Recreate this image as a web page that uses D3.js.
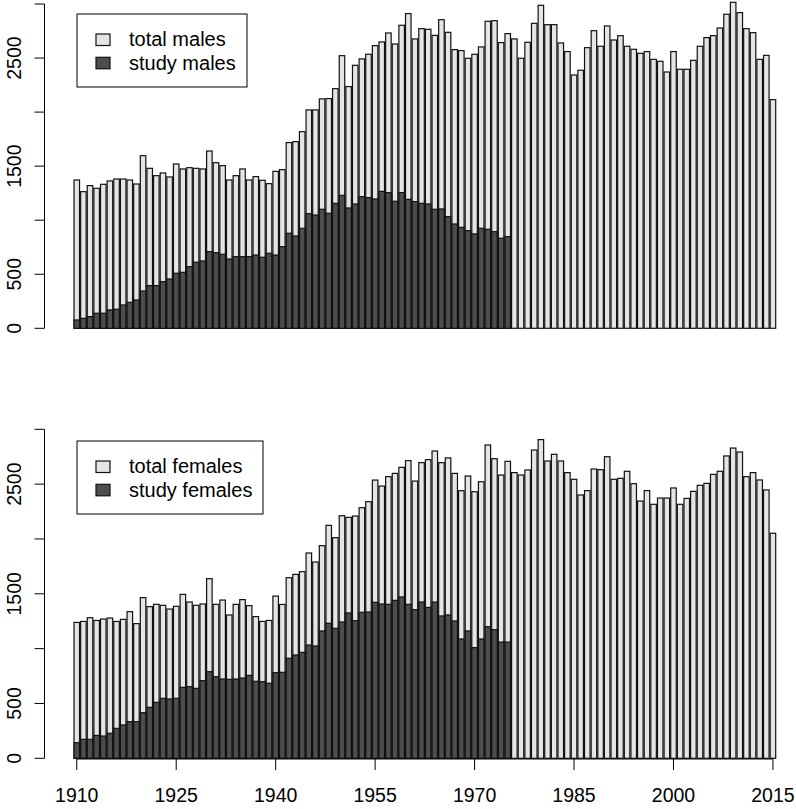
<!DOCTYPE html>
<html>
<head>
<meta charset="utf-8">
<script src="https://cdn.jsdelivr.net/npm/d3@7"></script>
<style>
body{margin:0;background:#fff;}
svg{display:block;font-family:"Liberation Sans",Arial,Helvetica,sans-serif;}
</style>
</head>
<body>
<svg id="chart" width="796" height="809"></svg>
<script>
const years = d3.range(1910, 2016);
const studyYears = d3.range(1910, 1976);

const totalMales = [
1372,1264,1320,1295,1332,1363,1381,1381,1372,1335,
1597,1480,1412,1437,1400,1520,1474,1486,1480,1474,
1640,1532,1505,1372,1412,1474,1372,1403,1369,1338,
1452,1468,1718,1727,1819,2020,2020,2122,2125,2217,
2522,2236,2433,2492,2535,2615,2649,2732,2630,2803,
2911,2677,2772,2766,2710,2855,2738,2578,2569,2498,
2535,2603,2840,2846,2643,2726,2677,2498,2646,2821,
2988,2809,2809,2640,2560,2343,2387,2596,2753,2609,
2797,2667,2707,2609,2581,2544,2560,2488,2470,2371,
2560,2396,2396,2479,2609,2689,2707,2778,2905,3016,
2920,2772,2735,2488,2525,2115];

const studyMales = [
77,92,108,139,139,170,176,216,240,262,
345,395,395,432,456,509,518,570,611,623,
709,700,685,641,663,663,663,678,657,694,
678,755,879,854,925,1060,1048,1101,1064,1156,
1230,1113,1150,1218,1209,1196,1267,1255,1175,1255,
1193,1172,1156,1150,1101,1104,1033,965,934,903,
873,925,916,894,833,848];

const totalFemales = [
1239,1248,1282,1257,1270,1279,1248,1267,1337,1228,
1465,1383,1404,1395,1361,1386,1495,1425,1395,1407,
1638,1404,1443,1307,1404,1447,1392,1292,1248,1257,
1479,1403,1647,1677,1702,1872,1790,1939,2124,2012,
2212,2197,2209,2285,2340,2537,2482,2568,2598,2653,
2714,2528,2696,2723,2802,2696,2739,2598,2440,2574,
2431,2522,2857,2732,2583,2708,2605,2583,2629,2811,
2906,2711,2772,2711,2605,2544,2401,2441,2638,2632,
2750,2544,2553,2617,2504,2346,2441,2316,2373,2373,
2465,2316,2370,2434,2489,2507,2589,2617,2757,2829,
2793,2568,2605,2538,2447,2052];

const studyFemales = [
142,173,173,209,203,228,273,304,334,334,
416,465,510,547,541,547,647,653,638,708,
790,744,723,720,723,732,756,702,699,684,
781,784,912,942,966,1033,1024,1161,1231,1185,
1243,1325,1255,1331,1334,1422,1407,1404,1440,1471,
1404,1355,1425,1376,1425,1298,1307,1252,1088,1161,
1009,1088,1200,1173,1060,1060];

const yTicks = [0,500,1000,1500,2000,2500,3000];
const yTickLabels = ["0","500","","1500","","2500",""];
const xTickYears = [1910,1925,1940,1955,1970,1985,2000,2015];

const panels = [
  {total: totalMales, study: studyMales, labels: ["total males","study males"], y0: 328.3, y1: 4, legend: {x: 77, y: 14, w: 170, h: 73}, xaxis: false},
  {total: totalFemales, study: studyFemales, labels: ["total females","study females"], y0: 758.3, y1: 429.3, legend: {x: 77, y: 441, w: 186, h: 73}, xaxis: true}
];

const lightFill = "#e5e5e5", darkFill = "#4d4d4d";
const svg = d3.select("#chart");

const x = d3.scaleBand().domain(years).range([73.45, 776.25]).paddingInner(1/6).paddingOuter(1/12);

panels.forEach(p => {
  const y = d3.scaleLinear().domain([0, 3000]).range([p.y0, p.y1]);
  const g = svg.append("g");

  g.selectAll("rect.total").data(years.map((yr, i) => ({yr, v: p.total[i]})))
    .enter().append("rect")
    .attr("x", d => x(d.yr)).attr("width", x.bandwidth())
    .attr("y", d => y(d.v)).attr("height", d => y(0) - y(d.v))
    .attr("fill", lightFill).attr("stroke", "#111").attr("stroke-width", 1.2);

  g.selectAll("rect.study").data(studyYears.map((yr, i) => ({yr, v: p.study[i]})))
    .enter().append("rect")
    .attr("x", d => x(d.yr)).attr("width", x.bandwidth())
    .attr("y", d => y(d.v)).attr("height", d => y(0) - y(d.v))
    .attr("fill", darkFill).attr("stroke", "#111").attr("stroke-width", 1.2);

  // y axis
  const ax = g.append("g").attr("transform", "translate(44.5,0)");
  ax.append("line").attr("x1", 0).attr("x2", 0).attr("y1", y(0)).attr("y2", y(3000)).attr("stroke", "#000").attr("stroke-width", 1);
  yTicks.forEach((t, i) => {
    ax.append("line").attr("x1", -10).attr("x2", 0).attr("y1", y(t)).attr("y2", y(t)).attr("stroke", "#000");
    if (yTickLabels[i]) {
      ax.append("text").attr("transform", `translate(-24,${y(t)}) rotate(-90)`)
        .attr("text-anchor", "middle").attr("font-size", 19.5).attr("fill", "#000").text(yTickLabels[i]);
    }
  });

  // legend
  const L = p.legend;
  const lg = g.append("g");
  lg.append("rect").attr("x", L.x).attr("y", L.y).attr("width", L.w).attr("height", L.h)
    .attr("fill", "#fff").attr("stroke", "#000").attr("stroke-width", 1);
  [lightFill, darkFill].forEach((c, i) => {
    lg.append("rect").attr("x", L.x + 19).attr("y", L.y + 20 + i * 23.3).attr("width", 14).attr("height", 11.5)
      .attr("fill", c).attr("stroke", "#111").attr("stroke-width", 1.2);
    lg.append("text").attr("x", L.x + 52).attr("y", L.y + 32.3 + i * 23.5)
      .attr("font-size", 20).attr("fill", "#000").text(p.labels[i]);
  });

  if (p.xaxis) {
    const xa = g.append("g");
    const cx = yr => x(yr) + x.bandwidth() / 2;
    xa.append("line").attr("x1", cx(1910)).attr("x2", cx(2015)).attr("y1", 759).attr("y2", 759).attr("stroke", "#000");
    xTickYears.forEach(t => {
      xa.append("line").attr("x1", cx(t)).attr("x2", cx(t)).attr("y1", 759).attr("y2", 770).attr("stroke", "#000");
      xa.append("text").attr("x", cx(t)).attr("y", 802).attr("text-anchor", "middle")
        .attr("font-size", 19.5).attr("fill", "#000").text(t);
    });
  }
});
</script>
</body>
</html>
